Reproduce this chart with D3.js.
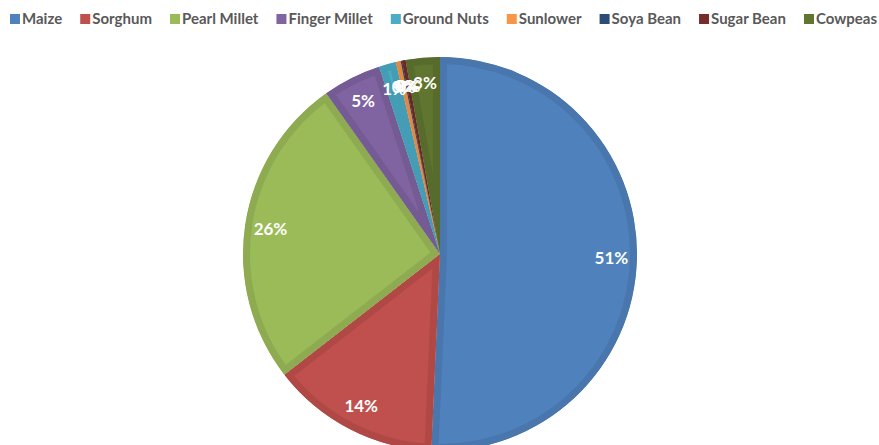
<!DOCTYPE html>
<html>
<head>
<meta charset="utf-8">
<script src="https://cdn.jsdelivr.net/npm/d3@7"></script>
<style>
  html, body { margin: 0; padding: 0; background: #ffffff; }
  svg { display: block; }
</style>
</head>
<body>
<svg id="chart" width="879" height="445"></svg>
<script>
// ---- data ----
const categories = ["Maize", "Sorghum", "Pearl Millet", "Finger Millet", "Ground Nuts", "Sunlower", "Soya Bean", "Sugar Bean", "Cowpeas"];
const shares = [50.7, 13.8, 25.7, 4.8, 1.4, 0.4, 0.1, 0.3, 2.8];
const colors = ["#4F81BD", "#C0504D", "#9BBB59", "#8064A2", "#4BACC6", "#F79646", "#2C4D75", "#772C2A", "#5F7530"];

const W = 879, H = 445;
const svg = d3.select("#chart");
const cx = 440, cy = 254, R = 197;

const data = categories.map((c, i) => ({ name: c, value: shares[i], color: colors[i] }));
const total = d3.sum(shares);

const pie = d3.pie().sort(null).value(d => d.value).startAngle(0).endAngle(2 * Math.PI);
const arcs = pie(data);
const arc = d3.arc().innerRadius(0).outerRadius(R);
const labelArc = d3.arc().innerRadius(R * 0.87).outerRadius(R * 0.87);

const defs = svg.append("defs");
const g = svg.append("g").attr("transform", `translate(${cx},${cy})`);

arcs.forEach((a, i) => {
  defs.append("clipPath").attr("id", "clip" + i)
    .append("path").attr("d", arc(a));
});

g.selectAll("path.slice").data(arcs).join("path")
  .attr("class", "slice")
  .attr("d", arc)
  .attr("fill", d => d.data.color)
  .attr("stroke", d => d3.color(d.data.color).darker(0.25).formatHex())
  .attr("stroke-width", 14)
  .attr("stroke-linejoin", "round")
  .attr("clip-path", (d, i) => `url(#clip${i})`);

g.selectAll("text.lbl").data(arcs).join("text")
  .attr("class", "lbl")
  .attr("transform", d => `translate(${labelArc.centroid(d)})`)
  .attr("text-anchor", "middle")
  .attr("dy", "0.36em")
  .attr("font-family", "Lato, 'Open Sans', sans-serif")
  .attr("font-weight", "bold")
  .attr("font-size", 17)
  .attr("fill", "#ffffff")
  .text(d => Math.round(d.data.value / total * 100) + "%");

// ---- legend ----
const leg = svg.append("g").attr("class", "legend");
const items = leg.selectAll("g").data(data).join("g");
items.append("rect").attr("width", 10).attr("height", 10).attr("y", 14).attr("fill", d => d.color);
items.append("text")
  .attr("x", 12).attr("y", 19).attr("dy", "0.36em")
  .attr("font-family", "Lato, 'Open Sans', sans-serif")
  .attr("font-weight", "bold")
  .attr("font-size", 15)
  .attr("fill", "#595959")
  .text(d => d.name);
const widths = [];
items.each(function () { widths.push(12 + d3.select(this).select("text").node().getComputedTextLength()); });
const left = 10, right = 877;
const gap = (right - left - d3.sum(widths)) / (widths.length - 1);
let x = left;
items.each(function (d, i) {
  d3.select(this).attr("transform", `translate(${x},0)`);
  x += widths[i] + gap;
});
</script>
</body>
</html>
